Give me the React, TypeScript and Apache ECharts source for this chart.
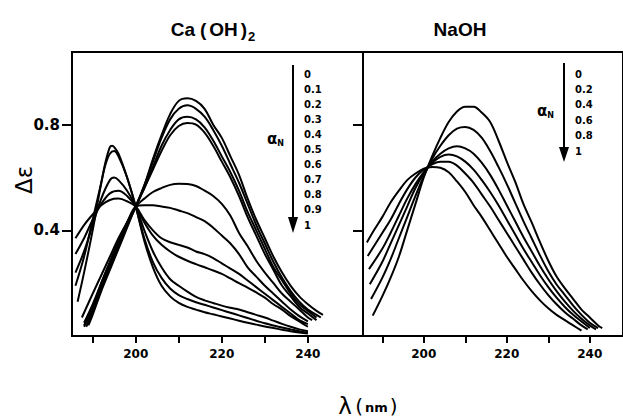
import React, { useEffect, useRef } from 'react';
import * as echarts from 'echarts';

// ---------- data: Ca(OH)2 panel, [wavelength nm, delta epsilon] ----------
const ca_a00 = [[188,0.04],[190,0.11],[192,0.20],[194,0.28],[196,0.36],[198,0.43],[200,0.49],[202,0.57],[204,0.67],[206,0.76],[208,0.84],[210,0.89],[212,0.90],[214,0.89],[216,0.86],[218,0.80],[220,0.75],[222,0.68],[224,0.61],[226,0.52],[228,0.44],[230,0.37],[232,0.30],[234,0.24],[236,0.19],[238,0.15],[240,0.12],[242,0.095],[243.5,0.08]];
const ca_a01 = [[188,0.035],[190,0.10],[192,0.19],[194,0.27],[196,0.35],[198,0.42],[200,0.49],[202,0.57],[204,0.66],[206,0.75],[208,0.82],[210,0.86],[212,0.873],[214,0.86],[216,0.83],[218,0.78],[220,0.72],[222,0.65],[224,0.58],[226,0.50],[228,0.42],[230,0.35],[232,0.28],[234,0.22],[236,0.17],[238,0.13],[240,0.10],[242,0.08],[243,0.07]];
const ca_a02 = [[188.5,0.035],[190,0.09],[192,0.18],[194,0.26],[196,0.34],[198,0.42],[200,0.49],[202,0.56],[204,0.64],[206,0.72],[208,0.78],[210,0.82],[212,0.83],[214,0.82],[216,0.79],[218,0.74],[220,0.68],[222,0.62],[224,0.55],[226,0.47],[228,0.40],[230,0.33],[232,0.26],[234,0.21],[236,0.16],[238,0.12],[240,0.095],[242,0.07]];
const ca_a03 = [[189,0.04],[190,0.08],[192,0.17],[194,0.25],[196,0.33],[198,0.41],[200,0.49],[202,0.56],[204,0.63],[206,0.70],[208,0.76],[210,0.795],[212,0.806],[214,0.80],[216,0.77],[218,0.72],[220,0.66],[222,0.60],[224,0.53],[226,0.45],[228,0.38],[230,0.31],[232,0.25],[234,0.19],[236,0.15],[238,0.11],[240,0.085],[242,0.06]];
const ca_a04 = [[188,0.05],[190,0.12],[192,0.20],[194,0.28],[196,0.36],[198,0.43],[200,0.49],[202,0.52],[204,0.545],[206,0.56],[208,0.572],[210,0.576],[212,0.575],[214,0.568],[216,0.55],[218,0.53],[220,0.50],[222,0.455],[224,0.39],[226,0.34],[228,0.285],[230,0.24],[232,0.20],[234,0.16],[236,0.13],[238,0.10],[240,0.07],[241,0.06]];
const ca_a05 = [[187.5,0.07],[190,0.16],[192,0.23],[194,0.30],[196,0.37],[198,0.43],[200,0.49],[202,0.495],[204,0.495],[206,0.49],[208,0.485],[210,0.475],[212,0.465],[214,0.45],[216,0.435],[218,0.41],[220,0.38],[222,0.35],[224,0.31],[226,0.26],[228,0.225],[230,0.19],[232,0.16],[234,0.13],[236,0.10],[238,0.075],[240,0.055]];
const ca_a06 = [[186,0.37],[188,0.42],[190,0.46],[192,0.495],[194,0.515],[196,0.52],[198,0.51],[200,0.49],[202,0.44],[204,0.40],[206,0.37],[208,0.355],[210,0.345],[212,0.335],[214,0.32],[216,0.31],[218,0.295],[220,0.275],[222,0.255],[224,0.235],[226,0.21],[228,0.185],[230,0.16],[232,0.135],[234,0.11],[236,0.085],[238,0.06],[240,0.045]];
const ca_a07 = [[186,0.31],[188,0.37],[190,0.44],[192,0.50],[194,0.54],[196,0.55],[198,0.53],[200,0.49],[202,0.43],[204,0.38],[206,0.345],[208,0.32],[210,0.30],[212,0.285],[214,0.272],[216,0.26],[218,0.248],[220,0.235],[222,0.218],[224,0.20],[226,0.183],[228,0.165],[230,0.145],[232,0.12],[234,0.10],[236,0.075],[238,0.055],[240,0.035]];
const ca_a08 = [[186,0.24],[188,0.32],[190,0.42],[192,0.52],[194,0.59],[195,0.60],[196,0.59],[198,0.55],[200,0.49],[202,0.40],[204,0.32],[206,0.26],[208,0.215],[210,0.19],[212,0.168],[214,0.148],[216,0.135],[218,0.125],[220,0.115],[222,0.107],[224,0.10],[226,0.09],[228,0.08],[230,0.07],[232,0.058],[234,0.046],[236,0.035],[238,0.025],[240,0.018]];
const ca_a09 = [[186,0.19],[188,0.30],[190,0.44],[192,0.58],[193,0.65],[194,0.69],[195,0.70],[196,0.68],[198,0.60],[200,0.49],[202,0.37],[204,0.28],[206,0.22],[208,0.18],[210,0.155],[212,0.14],[214,0.128],[216,0.118],[218,0.108],[220,0.098],[222,0.088],[224,0.078],[226,0.068],[228,0.058],[230,0.048],[232,0.04],[234,0.032],[236,0.025],[238,0.018],[240,0.012]];
const ca_a10 = [[186.5,0.13],[188,0.24],[190,0.40],[192,0.58],[193,0.66],[194,0.715],[194.5,0.72],[195,0.715],[196,0.69],[198,0.60],[200,0.49],[202,0.36],[204,0.26],[206,0.19],[208,0.15],[210,0.125],[212,0.11],[214,0.10],[216,0.09],[218,0.082],[220,0.074],[222,0.066],[224,0.058],[226,0.05],[228,0.043],[230,0.036],[232,0.03],[234,0.024],[236,0.018],[238,0.013],[240,0.009]];

// ---------- data: NaOH panel ----------
const na_a00 = [[187.7,0.077],[190,0.15],[192,0.22],[194,0.30],[196,0.40],[198,0.50],[200,0.60],[202,0.68],[204,0.75],[206,0.81],[208,0.85],[210,0.868],[212,0.868],[214,0.845],[216,0.81],[218,0.74],[220,0.66],[222,0.585],[224,0.50],[226,0.43],[228,0.355],[230,0.285],[232,0.225],[234,0.18],[236,0.14],[238,0.10],[240,0.07],[242,0.04],[243,0.03]];
const na_a02 = [[187.3,0.14],[190,0.22],[192,0.29],[194,0.37],[196,0.45],[198,0.53],[200,0.605],[202,0.67],[204,0.72],[206,0.76],[208,0.785],[210,0.791],[212,0.78],[214,0.75],[216,0.70],[218,0.64],[220,0.575],[222,0.505],[224,0.435],[226,0.37],[228,0.305],[230,0.245],[232,0.195],[234,0.155],[236,0.115],[238,0.08],[240,0.05],[242,0.03]];
const na_a04 = [[187,0.196],[190,0.28],[192,0.35],[194,0.42],[196,0.49],[198,0.56],[200,0.615],[202,0.66],[204,0.69],[206,0.71],[208,0.718],[210,0.71],[212,0.69],[214,0.655],[216,0.61],[218,0.555],[220,0.495],[222,0.435],[224,0.375],[226,0.32],[228,0.265],[230,0.215],[232,0.17],[234,0.13],[236,0.095],[238,0.065],[240,0.04],[241.5,0.025]];
const na_a06 = [[186.8,0.253],[190,0.33],[192,0.39],[194,0.455],[196,0.52],[198,0.575],[200,0.62],[202,0.655],[204,0.678],[206,0.687],[208,0.68],[210,0.66],[212,0.63],[214,0.59],[216,0.545],[218,0.495],[220,0.44],[222,0.385],[224,0.33],[226,0.28],[228,0.23],[230,0.185],[232,0.145],[234,0.11],[236,0.08],[238,0.055],[240,0.03]];
const na_a08 = [[186.5,0.303],[190,0.39],[192,0.44],[194,0.50],[196,0.555],[198,0.60],[200,0.63],[202,0.65],[204,0.66],[206,0.66],[208,0.645],[210,0.615],[212,0.58],[214,0.535],[216,0.49],[218,0.44],[220,0.39],[222,0.34],[224,0.29],[226,0.24],[228,0.195],[230,0.155],[232,0.12],[234,0.09],[236,0.065],[238,0.04],[239.5,0.025]];
const na_a10 = [[186.3,0.354],[188,0.40],[190,0.45],[192,0.505],[194,0.55],[196,0.59],[198,0.615],[200,0.633],[202,0.64],[204,0.637],[206,0.62],[208,0.585],[210,0.545],[212,0.495],[214,0.45],[216,0.40],[218,0.35],[220,0.30],[222,0.255],[224,0.21],[226,0.17],[228,0.135],[230,0.105],[232,0.08],[234,0.06],[236,0.04],[238,0.02]];

// ---------- labels ----------
const CA_ALPHA = ['0', '0.1', '0.2', '0.3', '0.4', '0.5', '0.6', '0.7', '0.8', '0.9', '1'];
const NA_ALPHA = ['0', '0.2', '0.4', '0.6', '0.8', '1'];
const X_TICKS = [190, 200, 210, 220, 230, 240];
const X_LABELS = [200, 220, 240];
const Y_TICKS = [0.4, 0.8];

const CA_CURVES = [ca_a00, ca_a01, ca_a02, ca_a03, ca_a04, ca_a05, ca_a06, ca_a07, ca_a08, ca_a09, ca_a10];
const NA_CURVES = [na_a00, na_a02, na_a04, na_a06, na_a08, na_a10];

const NUM_FONT = 'DejaVu Sans';
const TITLE_FONT = 'Liberation Sans';

function buildOption() {
  const lineStyle = { color: '#000', width: 2 };
  const series: any[] = [];
  CA_CURVES.forEach((d, i) => {
    series.push({
      type: 'line', name: 'Ca ' + CA_ALPHA[i], xAxisIndex: 0, yAxisIndex: 0,
      data: d, smooth: 0.35, showSymbol: false, lineStyle, silent: true,
    });
  });
  NA_CURVES.forEach((d, i) => {
    series.push({
      type: 'line', name: 'Na ' + NA_ALPHA[i], xAxisIndex: 1, yAxisIndex: 2,
      data: d, smooth: 0.35, showSymbol: false, lineStyle, silent: true,
    });
  });

  const xCommon = (gridIndex: number, min: number, max: number, labels: boolean) => ({
    type: 'value', gridIndex, min, max,
    axisLine: { show: true, onZero: false, lineStyle: { color: '#000', width: 2 } },
    axisTick: { show: true, customValues: X_TICKS, length: 7, lineStyle: { color: '#000', width: 2 } },
    axisLabel: {
      show: labels, customValues: X_LABELS, margin: 12, color: '#000',
      fontFamily: NUM_FONT, fontWeight: 'bold', fontSize: 12,
    },
    splitLine: { show: false },
  });

  const graphic: any[] = [];
  // titles
  graphic.push({
    type: 'text', x: 213, y: 29,
    style: {
      text: '{a|Ca}{p|(}{b|OH}{q|)}{s|2}', align: 'center', verticalAlign: 'middle',
      rich: {
        a: { fontFamily: TITLE_FONT, fontWeight: 'bold', fontSize: 19, fill: '#000', padding: [0, 5, 0, 0] },
        p: { fontFamily: TITLE_FONT, fontWeight: 'bold', fontSize: 19, fill: '#000', padding: [0, 3, 0, 0] },
        b: { fontFamily: TITLE_FONT, fontWeight: 'bold', fontSize: 19, fill: '#000', padding: [0, 3, 0, 0] },
        q: { fontFamily: TITLE_FONT, fontWeight: 'bold', fontSize: 19, fill: '#000', padding: [0, 1, 0, 0] },
        s: { fontFamily: TITLE_FONT, fontWeight: 'bold', fontSize: 13, fill: '#000', padding: [14, 0, 0, 0] },
      },
    },
  });
  graphic.push({
    type: 'text', x: 460, y: 29,
    style: { text: 'NaOH', align: 'center', verticalAlign: 'middle', fontFamily: TITLE_FONT, fontWeight: 'bold', fontSize: 19, fill: '#000' },
  });
  // x-axis name
  graphic.push({
    type: 'text', x: 368, y: 406,
    style: {
      text: '{l|λ} {p|(}{n|nm}{p|)}', align: 'center', verticalAlign: 'middle',
      rich: {
        l: { fontFamily: NUM_FONT, fontSize: 23, fill: '#000' },
        p: { fontFamily: NUM_FONT, fontSize: 20, fill: '#000' },
        n: { fontFamily: NUM_FONT, fontWeight: 'bold', fontSize: 13, fill: '#000', padding: [3, 2, 0, 2] },
      },
    },
  });
  // y-axis name
  graphic.push({
    type: 'text', x: 24, y: 180, rotation: Math.PI / 2,
    style: { text: 'Δε', align: 'center', verticalAlign: 'middle', fontFamily: NUM_FONT, fontSize: 23, fill: '#000' },
  });

  // legend arrows and labels (Ca(OH)2)
  graphic.push({ type: 'line', shape: { x1: 293, y1: 65, x2: 293, y2: 220 }, style: { stroke: '#000', lineWidth: 2 } });
  graphic.push({ type: 'polygon', shape: { points: [[288, 217], [298, 217], [293, 233]] }, style: { fill: '#000' } });
  CA_ALPHA.forEach((t, i) => {
    graphic.push({
      type: 'text', x: 304, y: 74 + i * 15.1,
      style: { text: t, verticalAlign: 'middle', fontFamily: NUM_FONT, fontWeight: 'bold', fontSize: 10, fill: '#000' },
    });
  });
  graphic.push({
    type: 'text', x: 267, y: 139,
    style: {
      text: '{a|α}{n|N}', verticalAlign: 'middle',
      rich: {
        a: { fontFamily: NUM_FONT, fontWeight: 'bold', fontSize: 15, fill: '#000' },
        n: { fontFamily: NUM_FONT, fontWeight: 'bold', fontSize: 8, fill: '#000', padding: [8, 0, 0, 0] },
      },
    },
  });

  // legend arrows and labels (NaOH)
  graphic.push({ type: 'line', shape: { x1: 564, y1: 63, x2: 564, y2: 150 }, style: { stroke: '#000', lineWidth: 2 } });
  graphic.push({ type: 'polygon', shape: { points: [[559, 147], [569, 147], [564, 162]] }, style: { fill: '#000' } });
  NA_ALPHA.forEach((t, i) => {
    graphic.push({
      type: 'text', x: 575, y: 74 + i * 15.4,
      style: { text: t, verticalAlign: 'middle', fontFamily: NUM_FONT, fontWeight: 'bold', fontSize: 10, fill: '#000' },
    });
  });
  graphic.push({
    type: 'text', x: 537, y: 111,
    style: {
      text: '{a|α}{n|N}', verticalAlign: 'middle',
      rich: {
        a: { fontFamily: NUM_FONT, fontWeight: 'bold', fontSize: 15, fill: '#000' },
        n: { fontFamily: NUM_FONT, fontWeight: 'bold', fontSize: 8, fill: '#000', padding: [8, 0, 0, 0] },
      },
    },
  });

  return {
    animation: false,
    backgroundColor: '#fff',
    grid: [
      { left: 72, top: 52, width: 291, height: 284, show: true, borderColor: '#000', borderWidth: 2, backgroundColor: 'transparent' },
      { left: 363, top: 52, width: 270, height: 284, show: true, borderColor: '#000', borderWidth: 2, backgroundColor: 'transparent' },
    ],
    xAxis: [
      xCommon(0, 185.2, 252.8, true),
      xCommon(1, 185.36, 248.0, true),
    ],
    yAxis: [
      {
        type: 'value', gridIndex: 0, min: 0, max: 1.075, position: 'left',
        axisLine: { show: true, lineStyle: { color: '#000', width: 2 } },
        axisTick: { show: true, customValues: Y_TICKS, length: 10, lineStyle: { color: '#000', width: 2 } },
        axisLabel: {
          show: true, customValues: Y_TICKS, margin: 12, color: '#000',
          fontFamily: NUM_FONT, fontWeight: 'bold', fontSize: 15,
          formatter: (v: number) => v.toFixed(1),
        },
        splitLine: { show: false },
      },
      {
        type: 'value', gridIndex: 0, min: 0, max: 1.075, position: 'right',
        axisLine: { show: true, lineStyle: { color: '#000', width: 2 } },
        axisTick: { show: true, inside: true, customValues: Y_TICKS, length: 10, lineStyle: { color: '#000', width: 2 } },
        axisLabel: { show: false },
        splitLine: { show: false },
      },
      {
        type: 'value', gridIndex: 1, min: 0, max: 1.075, position: 'left',
        axisLine: { show: true, lineStyle: { color: '#000', width: 2 } },
        axisTick: { show: false },
        axisLabel: { show: false },
        splitLine: { show: false },
      },
    ],
    graphic,
    series,
  };
}

export default function App() {
  const ref = useRef<HTMLDivElement>(null);
  useEffect(() => {
    if (!ref.current) return;
    const chart = echarts.init(ref.current, null, { renderer: 'svg' });
    chart.setOption(buildOption() as any);
    return () => chart.dispose();
  }, []);
  return (
    <div
      ref={ref}
      style={{ position: 'absolute', left: 0, top: 0, width: 623, height: 418, background: '#fff' }}
    />
  );
}
